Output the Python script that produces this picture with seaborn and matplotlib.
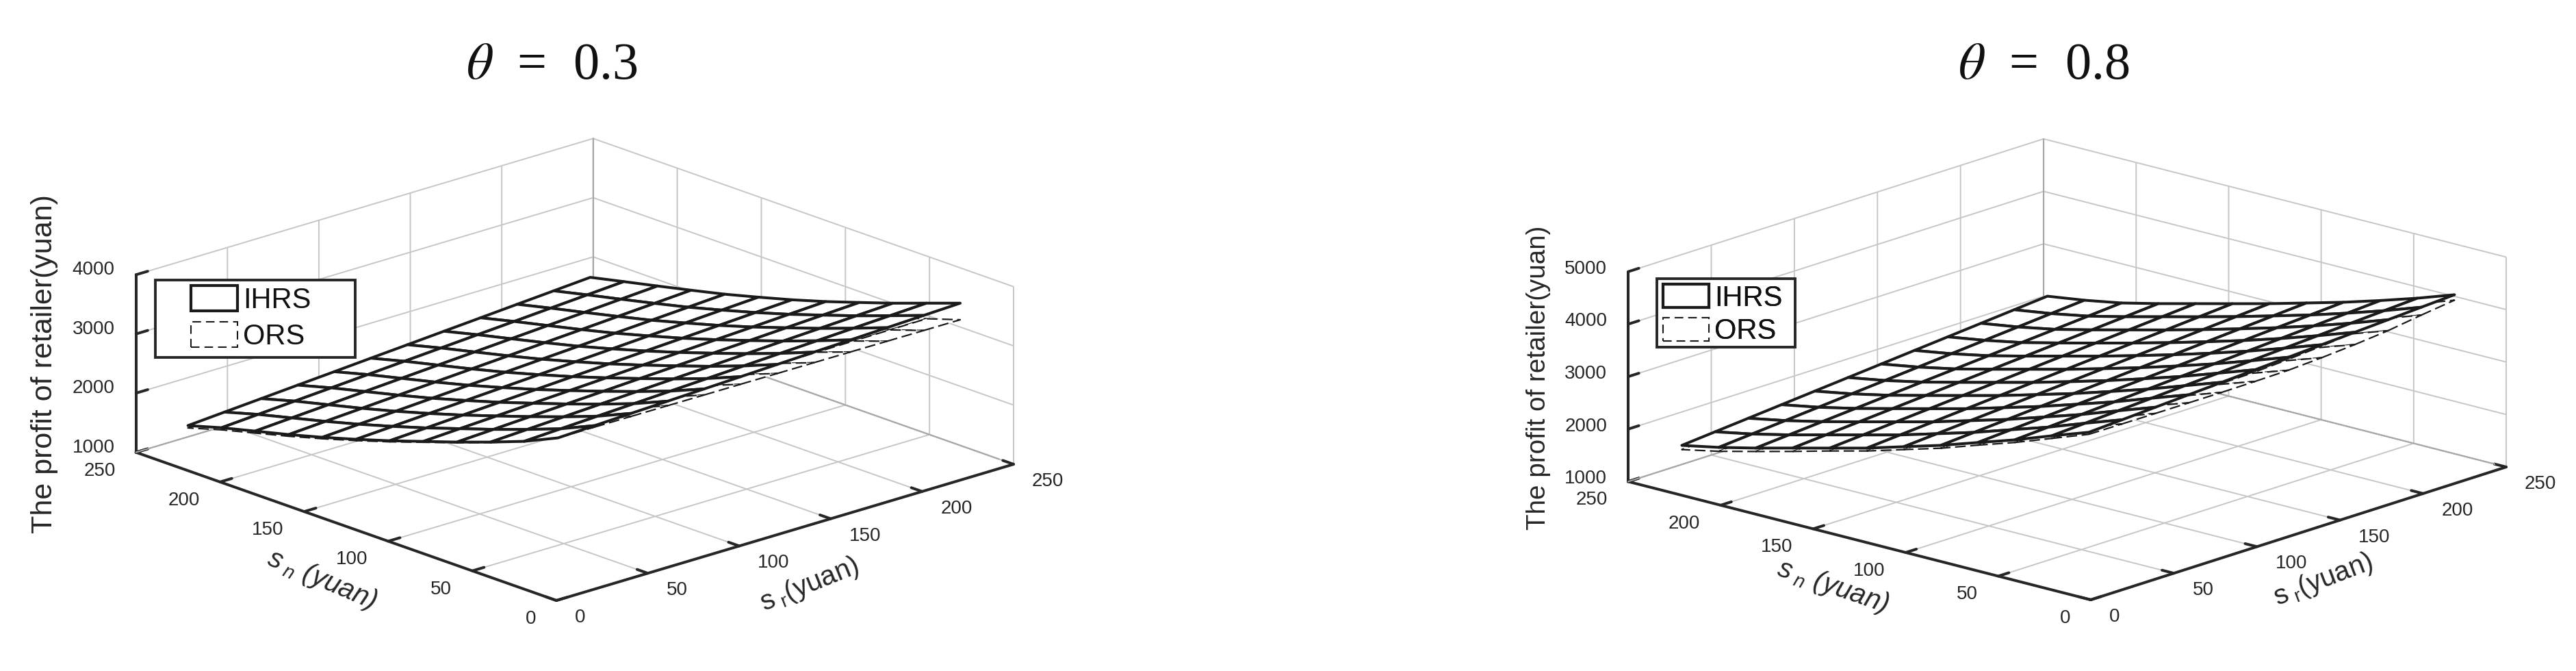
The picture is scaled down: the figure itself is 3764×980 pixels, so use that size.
import numpy as np
import seaborn as sns
import matplotlib.pyplot as plt
from matplotlib.patches import Patch, Rectangle
from mpl_toolkits.mplot3d import proj3d

# s_r and s_n of the mesh vertices
sr_vals = [10, 30, 50, 70, 90, 110, 130, 150, 170, 190, 210, 230]
sn_vals = [10, 30, 50, 70, 90, 110, 130, 150, 170, 190, 210, 230]
axis_ticks = [0, 50, 100, 150, 200, 250]
z_ticks_a = [1000, 2000, 3000, 4000]
z_ticks_b = [1000, 2000, 3000, 4000, 5000]

# rows = s_n, columns = s_r
ihrs_a = [
    [3554, 3577, 3600, 3622, 3645, 3668, 3691, 3714, 3737, 3759, 3782, 3805],
    [3296, 3324, 3352, 3380, 3408, 3436, 3465, 3493, 3521, 3549, 3577, 3605],
    [3083, 3112, 3141, 3171, 3200, 3229, 3258, 3287, 3317, 3346, 3375, 3404],
    [2883, 2913, 2944, 2974, 3004, 3035, 3065, 3095, 3125, 3156, 3186, 3216],
    [2694, 2725, 2755, 2786, 2816, 2847, 2878, 2908, 2939, 2969, 3000, 3031],
    [2505, 2537, 2570, 2602, 2634, 2667, 2699, 2732, 2764, 2796, 2829, 2861],
    [2329, 2363, 2397, 2432, 2466, 2500, 2534, 2568, 2603, 2637, 2671, 2705],
    [2163, 2199, 2234, 2270, 2305, 2341, 2377, 2412, 2448, 2483, 2519, 2555],
    [2009, 2047, 2084, 2122, 2159, 2197, 2234, 2272, 2309, 2347, 2384, 2422],
    [1867, 1906, 1944, 1983, 2022, 2061, 2099, 2138, 2177, 2215, 2254, 2293],
    [1724, 1764, 1805, 1845, 1885, 1926, 1966, 2006, 2046, 2087, 2127, 2167],
    [1560, 1604, 1647, 1691, 1734, 1778, 1821, 1865, 1908, 1952, 1995, 2039],
]
ors_a = [
    [3554, 3552, 3549, 3546, 3543, 3541, 3538, 3536, 3533, 3530, 3527, 3525],
    [3292, 3297, 3301, 3306, 3310, 3315, 3320, 3325, 3329, 3334, 3338, 3342],
    [3076, 3083, 3091, 3099, 3106, 3113, 3121, 3128, 3136, 3144, 3151, 3158],
    [2872, 2882, 2893, 2903, 2913, 2925, 2935, 2945, 2955, 2966, 2976, 2986],
    [2679, 2692, 2704, 2717, 2729, 2742, 2755, 2767, 2780, 2792, 2805, 2818],
    [2487, 2503, 2520, 2535, 2551, 2568, 2584, 2601, 2616, 2632, 2649, 2665],
    [2307, 2327, 2346, 2367, 2387, 2407, 2426, 2446, 2467, 2487, 2506, 2526],
    [2138, 2162, 2184, 2208, 2230, 2254, 2277, 2300, 2323, 2346, 2369, 2393],
    [1980, 2007, 2034, 2061, 2088, 2115, 2141, 2169, 2195, 2223, 2249, 2276],
    [1834, 1864, 1894, 1924, 1954, 1984, 2014, 2044, 2074, 2104, 2134, 2164],
    [1688, 1721, 1755, 1788, 1821, 1855, 1889, 1922, 1955, 1989, 2022, 2055],
    [1520, 1559, 1597, 1636, 1674, 1713, 1751, 1790, 1828, 1867, 1905, 1944],
]
ihrs_b = [
    [4001, 4037, 4073, 4108, 4144, 4180, 4216, 4252, 4287, 4323, 4359, 4395],
    [3754, 3790, 3826, 3862, 3898, 3934, 3969, 4005, 4041, 4077, 4113, 4149],
    [3496, 3535, 3574, 3613, 3652, 3691, 3729, 3768, 3807, 3846, 3885, 3924],
    [3265, 3306, 3346, 3387, 3427, 3468, 3508, 3549, 3589, 3630, 3670, 3711],
    [3031, 3075, 3119, 3164, 3208, 3252, 3296, 3340, 3385, 3429, 3473, 3517],
    [2825, 2870, 2916, 2961, 3007, 3052, 3097, 3143, 3188, 3234, 3279, 3324],
    [2618, 2666, 2713, 2761, 2809, 2857, 2904, 2952, 3000, 3047, 3095, 3143],
    [2438, 2486, 2534, 2581, 2629, 2677, 2725, 2773, 2820, 2868, 2916, 2964],
    [2259, 2307, 2354, 2402, 2450, 2498, 2545, 2593, 2641, 2688, 2736, 2784],
    [2078, 2127, 2176, 2225, 2274, 2323, 2371, 2420, 2469, 2518, 2567, 2616],
    [1911, 1963, 2016, 2068, 2121, 2173, 2226, 2278, 2331, 2383, 2436, 2488],
    [1769, 1825, 1881, 1937, 1993, 2049, 2105, 2161, 2217, 2273, 2329, 2385],
]
ors_b = [
    [3962, 3958, 3955, 3954, 3952, 3958, 3968, 4004, 4052, 4115, 4209, 4291],
    [3704, 3705, 3705, 3717, 3706, 3718, 3729, 3765, 3813, 3873, 3962, 4040],
    [3446, 3453, 3460, 3478, 3474, 3492, 3508, 3547, 3596, 3657, 3744, 3821],
    [3215, 3228, 3239, 3261, 3263, 3285, 3305, 3346, 3396, 3457, 3539, 3614],
    [2976, 2995, 3014, 3042, 3053, 3081, 3107, 3151, 3205, 3266, 3347, 3420],
    [2770, 2794, 2818, 2849, 2866, 2897, 2927, 2973, 3025, 3086, 3163, 3233],
    [2563, 2593, 2623, 2659, 2684, 2720, 2755, 2803, 2857, 2916, 2990, 3059],
    [2383, 2417, 2451, 2489, 2518, 2556, 2595, 2643, 2694, 2752, 2821, 2886],
    [2194, 2231, 2268, 2309, 2343, 2384, 2424, 2472, 2523, 2577, 2641, 2701],
    [2013, 2055, 2097, 2141, 2181, 2225, 2268, 2317, 2369, 2423, 2482, 2539],
    [1836, 1884, 1934, 1984, 2032, 2082, 2132, 2184, 2238, 2293, 2351, 2407],
    [1689, 1745, 1801, 1857, 1913, 1969, 2025, 2081, 2137, 2193, 2249, 2305],
]

sns.set_theme(style="white", font="Liberation Sans")
plt.rcParams.update({
    "mathtext.fontset": "custom",
    "mathtext.rm": "Liberation Sans",
    "mathtext.it": "Liberation Sans:italic",
    "axes3d.automargin": False,
})
DARK = "#262626"
GRID = "#c6c6c6"
W, H = 3764, 980
fig = plt.figure(figsize=(W / 100, H / 100), dpi=100)

# overlay in image pixels for titles, axis labels, tick labels and legends
top = fig.add_axes([0, 0, 1, 1], zorder=10)
top.set_xlim(0, W)
top.set_ylim(H, 0)
top.axis("off")


def px(ax, x, y, z):
    x2, y2, _ = proj3d.proj_transform(x, y, z, ax.get_proj())
    return ax.transData.transform((x2, y2))


def place(ax, corner_a, corner_b, target_a, target_b):
    # move the square 3d axes so two floor corners land on the wanted pixels
    ta = np.array([target_a[0], H - target_a[1]], float)
    tb = np.array([target_b[0], H - target_b[1]], float)
    side = 900.0
    left, bottom = 100.0, 40.0
    for _ in range(3):
        ax.set_position([left / W, bottom / H, side / W, side / H])
        ax.apply_aspect()
        a = px(ax, *corner_a)
        b = px(ax, *corner_b)
        side *= np.linalg.norm(tb - ta) / np.linalg.norm(b - a)
        ax.set_position([left / W, bottom / H, side / W, side / H])
        ax.apply_aspect()
        a = px(ax, *corner_a)
        left += ta[0] - a[0]
        bottom += ta[1] - a[1]
    ax.set_position([left / W, bottom / H, side / W, side / H])
    ax.apply_aspect()


def tick_label(ax, point, text, dx, dy, ha):
    x, y = px(ax, *point)
    top.text(x + dx, H - y + dy, text, ha=ha, va="center", fontsize=20, color=DARK)


def panel(ihrs, ors, z_ticks, elev, azim, aspect, front, right, z_dy):
    ax = fig.add_subplot(projection="3d", computed_zorder=False, proj_type="ortho")
    ax.patch.set_alpha(0)
    ax.view_init(elev=elev, azim=azim)
    ax.set_box_aspect(aspect)
    ax.set_xlim(0, 250, view_margin=0)
    ax.set_ylim(0, 250, view_margin=0)
    ax.set_zlim(z_ticks[0], z_ticks[-1], view_margin=0)
    ax.set_xticks(axis_ticks)
    ax.set_yticks(axis_ticks)
    ax.set_zticks(z_ticks)
    ax.set_xticklabels([])
    ax.set_yticklabels([])
    ax.set_zticklabels([])

    # the box edges at the back read darker than the grid
    z0, z1 = z_ticks[0], z_ticks[-1]
    edge = dict(color="#aaa6a6", linewidth=1.5, zorder=0.5)
    ax.plot([0, 250], [250, 250], [z0, z0], **edge)
    ax.plot([250, 250], [0, 250], [z0, z0], **edge)
    ax.plot([250, 250], [250, 250], [z0, z1], **edge)

    X, Y = np.meshgrid(sr_vals, sn_vals)
    ax.plot_surface(X, Y, np.array(ors), color="white", edgecolor="k", linewidth=1.6,
                    linestyle=(0, (7, 3)), shade=False, zorder=1)
    ax.plot_surface(X, Y, np.array(ihrs), color="white", edgecolor="k", linewidth=2.9,
                    shade=False, zorder=2)

    for axis in (ax.xaxis, ax.yaxis, ax.zaxis):
        axis.set_pane_color((1, 1, 1, 0))
        axis.pane.set_edgecolor((1, 1, 1, 0))
        axis.line.set_color(DARK)
        axis.line.set_linewidth(2.9)
        axis._axinfo["grid"].update(color=GRID, linewidth=1.4)
        axis._axinfo["tick"].update(inward_factor=0, outward_factor=0.32, color=DARK,
                                    linewidth={True: 2.9, False: 2.9})
    place(ax, (0, 0, z0), (250, 0, z0), front, right)

    for t in axis_ticks:
        tick_label(ax, (t, 0, z0), str(t), 27, 25, "left")
        tick_label(ax, (0, t, z0), str(t), -30, 27, "right")
    for t in z_ticks:
        tick_label(ax, (0, 250, t), str(t), -31, z_dy, "right")
    return ax


ax1 = panel(ihrs_a, ors_a, z_ticks_a, 18.9, 227.4, (907, 907, 274), (813, 877), (1481, 678), -7)
ax2 = panel(ihrs_b, ors_b, z_ticks_b, 16.6, 221.8, (911, 907, 320), (3055, 876), (3662, 682), -4)

for x, txt in [(806, r"$\theta$  =  0.3"), (2986, r"$\theta$  =  0.8")]:
    top.text(x, 97, txt, ha="center", va="center", fontsize=55, color="#111111",
             family="Liberation Serif", math_fontfamily="stix")

top.text(65, 532, "The profit of retailer(yuan)", rotation=90, ha="center", va="center",
         fontsize=31, color=DARK)
top.text(2248, 552, "The profit of retailer(yuan)", rotation=90, ha="center", va="center",
         fontsize=27.8, color=DARK)

sn_label = r"$s_{\ n}$ (yuan)"
sr_label = r"$\mathrm{s}_{\ \mathrm{r}}$(yuan)"
top.text(470, 847, sn_label, rotation=-23, ha="center", va="center", fontsize=29,
         color=DARK, style="italic")
top.text(1183, 854, sr_label, rotation=22, ha="center", va="center", fontsize=29, color=DARK)
top.text(2678, 857, sn_label, rotation=-19, ha="center", va="center", fontsize=29,
         color=DARK, style="italic")
top.text(3395, 847, sr_label, rotation=21, ha="center", va="center", fontsize=29, color=DARK)


def legend_box(box, anchor, spacing, hlen, hheight):
    x0, y0, x1, y1 = box
    top.add_patch(Rectangle((x0, y0), x1 - x0, y1 - y0, facecolor="white",
                            edgecolor=DARK, linewidth=2.8))
    handles = [Patch(facecolor="white", edgecolor="k", linewidth=3, label="IHRS"),
               Patch(facecolor="white", edgecolor="k", linewidth=1.5,
                     linestyle=(0, (6, 3.5)), label="ORS")]
    leg = top.legend(handles=handles, loc="upper left", bbox_to_anchor=anchor,
                     bbox_transform=top.transData, frameon=False, fontsize=30,
                     labelcolor="#111111", borderpad=0, borderaxespad=0, handlelength=hlen,
                     handleheight=hheight, handletextpad=0.2, labelspacing=spacing)
    top.add_artist(leg)


legend_box((227, 409, 519, 522), (279, 417), 0.26, 1.63, 1.0)
legend_box((2421, 407, 2623, 507), (2430, 415), 0.2, 1.6, 0.89)

fig.savefig("out.png", dpi=100)
